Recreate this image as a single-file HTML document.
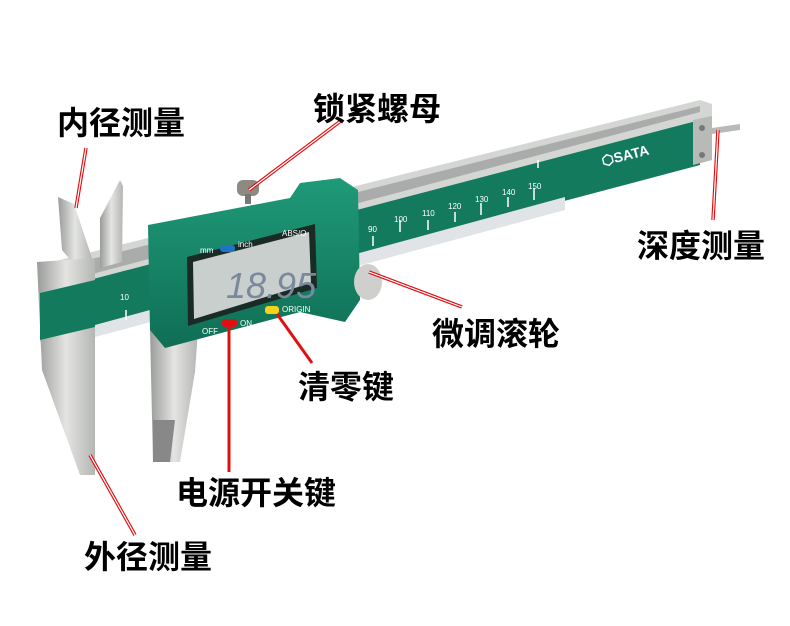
<!DOCTYPE html>
<html><head><meta charset="utf-8"><style>
html,body{margin:0;padding:0;background:#fff}
svg{display:block}
.lb{font-family:"Liberation Sans","Noto Sans CJK SC",sans-serif;font-weight:bold;font-size:32px;fill:#000}
.sm{font-family:"Liberation Sans",sans-serif;font-size:8px;fill:#fff}
</style></head><body>
<svg width="790" height="626" viewBox="0 0 790 626" xmlns="http://www.w3.org/2000/svg">
<defs>
<linearGradient id="st" x1="0" y1="0" x2="1" y2="0"><stop offset="0" stop-color="#9a9c9a"/><stop offset="0.5" stop-color="#e4e5e3"/><stop offset="1" stop-color="#b4b6b4"/></linearGradient>
<linearGradient id="gr" x1="0" y1="0" x2="0" y2="1"><stop offset="0" stop-color="#1f9a78"/><stop offset="1" stop-color="#0f6e55"/></linearGradient>
</defs>
<!-- beam -->
<polygon points="40,265 700,100 712,104 712,160 40,342" fill="#d4d6d4"/>
<polygon points="40,272 700,106 700,112 40,288" fill="#a9acaa"/>
<polygon points="40,293 700,120 700,165 40,340" fill="#137a5d"/>
<polygon points="95,325 565,197 565,210 95,337" fill="#e0e4e6"/>
<polygon points="693,120 712,116 712,160 693,165" fill="#b8bab8"/>
<circle cx="702" cy="128" r="3" fill="#777"/><circle cx="702" cy="155" r="3" fill="#777"/>
<polygon points="712,128 740,124 740,130 712,134" fill="#b8bab8"/>
<text x="603" y="166" transform="rotate(-14 603 166)" style="font-family:'Liberation Sans',sans-serif;font-weight:bold;font-size:14px;fill:#fff">⬡SATA</text>
<g stroke="#fff" stroke-width="1.5">
<line x1="92" y1="300" x2="92" y2="290"/><line x1="92" y1="318" x2="92" y2="328"/>
<line x1="126" y1="310" x2="126" y2="320"/>
<line x1="373" y1="236" x2="373" y2="246"/><line x1="400" y1="220" x2="400" y2="232"/>
<line x1="428" y1="220" x2="428" y2="230"/><line x1="455" y1="212" x2="455" y2="222"/>
<line x1="481" y1="203" x2="481" y2="215"/><line x1="508" y1="197" x2="508" y2="207"/>
<line x1="534" y1="188" x2="534" y2="200"/><line x1="538" y1="160" x2="538" y2="168"/>
</g>
<g class="sm"><text x="88" y="305">0</text><text x="120" y="300">10</text><text x="368" y="232">90</text><text x="394" y="222">100</text><text x="422" y="216">110</text><text x="448" y="209">120</text><text x="475" y="202">130</text><text x="502" y="195">140</text><text x="528" y="189">150</text></g>
<!-- left jaw -->
<polygon points="58,197 74,204 92,258 72,262 62,250" fill="url(#st)"/>
<polygon points="37,262 95,258 95,475 80,475 42,370" fill="url(#st)"/>
<polygon points="40,293 95,280 95,327 40,340" fill="#137a5d"/>
<polygon points="100,218 120,180 123,186 122,262 100,268" fill="url(#st)"/>
<polygon points="150,330 198,330 195,372 180,462 153,462" fill="url(#st)"/>
<polygon points="153,420 175,420 170,462 153,462" fill="#888"/>
<!-- body -->
<polygon points="148,225 290,198 300,183 340,178 358,190 360,300 345,322 300,312 165,348 150,330" fill="url(#gr)"/>
<rect x="237" y="180" width="22" height="16" rx="6" fill="#8d8a83"/>
<rect x="245" y="194" width="6" height="10" fill="#777"/>
<polygon points="187,257 315,224 317,288 188,326" fill="#1a2a25"/>
<polygon points="193,262 309,232 311,283 194,319" fill="#c9cfcc"/>
<text x="226" y="298" style="font-family:'Liberation Sans',sans-serif;font-size:36px;font-style:italic;fill:#7b879e">18.95</text>
<rect x="220" y="245" width="15" height="7" rx="3" fill="#1e73c8"/>
<text x="200" y="253" class="sm">mm</text><text x="238" y="247" class="sm">inch</text>
<text x="282" y="236" class="sm">ABS/O</text>
<rect x="222" y="319" width="15" height="8" rx="3" fill="#e01010"/>
<rect x="265" y="306" width="14" height="8" rx="3" fill="#f3d21b"/>
<text x="202" y="334" class="sm">OFF</text><text x="240" y="326" class="sm">ON</text><text x="282" y="312" class="sm">ORIGIN</text>
<ellipse cx="368" cy="282" rx="14" ry="18" fill="#cfd0ce"/>
<!-- red leaders -->
<g stroke="#e01010" stroke-width="3.5"><line x1="86" y1="148" x2="76" y2="208"/><line x1="342" y1="120" x2="249" y2="190"/><line x1="718" y1="130" x2="713" y2="220"/><line x1="369" y1="272" x2="462" y2="307"/><line x1="90" y1="455" x2="135" y2="535"/></g>
<g stroke="#fff" stroke-width="1.2"><line x1="86" y1="148" x2="76" y2="208"/><line x1="342" y1="120" x2="249" y2="190"/><line x1="718" y1="130" x2="713" y2="220"/><line x1="369" y1="272" x2="462" y2="307"/><line x1="90" y1="455" x2="135" y2="535"/></g>
<g stroke="#e01010" stroke-width="3"><line x1="277" y1="314" x2="312" y2="363"/><line x1="229" y1="326" x2="229" y2="472"/></g>
<!-- labels -->
<text class="lb" x="57" y="134">内径测量</text>
<text class="lb" x="313" y="120">锁紧螺母</text>
<text class="lb" x="637" y="257">深度测量</text>
<text class="lb" x="432" y="345">微调滚轮</text>
<text class="lb" x="298" y="398">清零键</text>
<text class="lb" x="176" y="504">电源开关键</text>
<text class="lb" x="84" y="568">外径测量</text>
</svg>
</body></html>
